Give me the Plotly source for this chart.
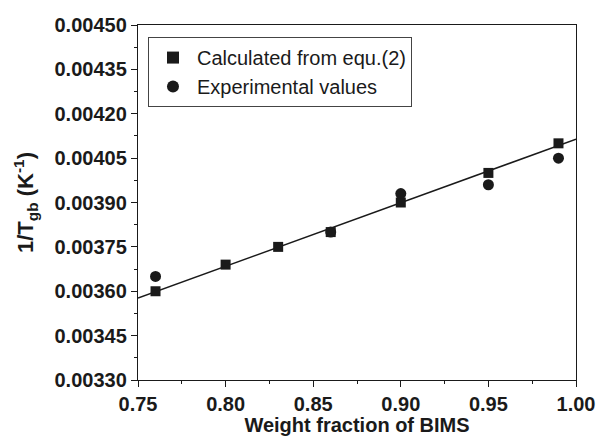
import plotly.graph_objects as go

# Weight fraction of BIMS
frac = [0.76, 0.80, 0.83, 0.86, 0.90, 0.95, 0.99]
calc_vals = [0.00360, 0.00369, 0.00375, 0.00380, 0.00390, 0.00400, 0.00410]

exp_frac = [0.76, 0.86, 0.90, 0.95, 0.99]
exp_vals = [0.00365, 0.00380, 0.00393, 0.00396, 0.00405]

# Linear trend line end points
fit_x = [0.75, 1.00]
fit_y = [0.003577, 0.004114]

FONT = "Liberation Sans, Arial, sans-serif"
INK = "#1a1a1a"

fig = go.Figure()
fig.add_trace(go.Scatter(
    x=fit_x, y=fit_y, mode="lines",
    line=dict(color=INK, width=1.5), showlegend=False, hoverinfo="skip"))
fig.add_trace(go.Scatter(
    x=frac, y=calc_vals, mode="markers", name="Calculated from equ.(2)",
    marker=dict(symbol="square", size=10, color=INK)))
fig.add_trace(go.Scatter(
    x=exp_frac, y=exp_vals, mode="markers", name="Experimental values",
    marker=dict(symbol="circle", size=11, color=INK)))

axis_common = dict(
    showline=True, linecolor=INK, linewidth=1.4, mirror=True,
    ticks="outside", ticklen=6, tickwidth=1.2, tickcolor=INK,
    showgrid=False, zeroline=False, automargin=False,
    tickfont=dict(family=FONT, size=20, color=INK, weight="bold"),
)

fig.update_xaxes(
    range=[0.75, 1.00], dtick=0.05, tick0=0.75, tickformat=".2f",
    minor=dict(dtick=0.025, ticklen=3, tickwidth=1.1, tickcolor=INK, ticks="outside"),
    title=dict(text="<b>Weight fraction of BIMS</b>", standoff=8,
               font=dict(family=FONT, size=20, color=INK)),
    **axis_common)
fig.update_yaxes(
    range=[0.00330, 0.00450], dtick=0.00015, tick0=0.00330, tickformat=".5f",
    minor=dict(dtick=0.000075, ticklen=3, tickwidth=1.1, tickcolor=INK, ticks="outside"),
    title=dict(text="<b>1/T<sub>gb</sub> (K<sup>-1</sup>)</b>", standoff=14,
               font=dict(family=FONT, size=22, color=INK)),
    **axis_common)

fig.update_layout(
    width=603, height=436,
    margin=dict(l=138, r=27, t=25, b=56),
    paper_bgcolor="white", plot_bgcolor="white",
    legend=dict(
        x=0.0228, y=0.966, xanchor="left", yanchor="top",
        bordercolor="#444", borderwidth=1, bgcolor="white",
        font=dict(family=FONT, size=20, color=INK),
        itemsizing="constant", itemwidth=38, tracegroupgap=0,
    ),
)

fig.write_html("out.html")
